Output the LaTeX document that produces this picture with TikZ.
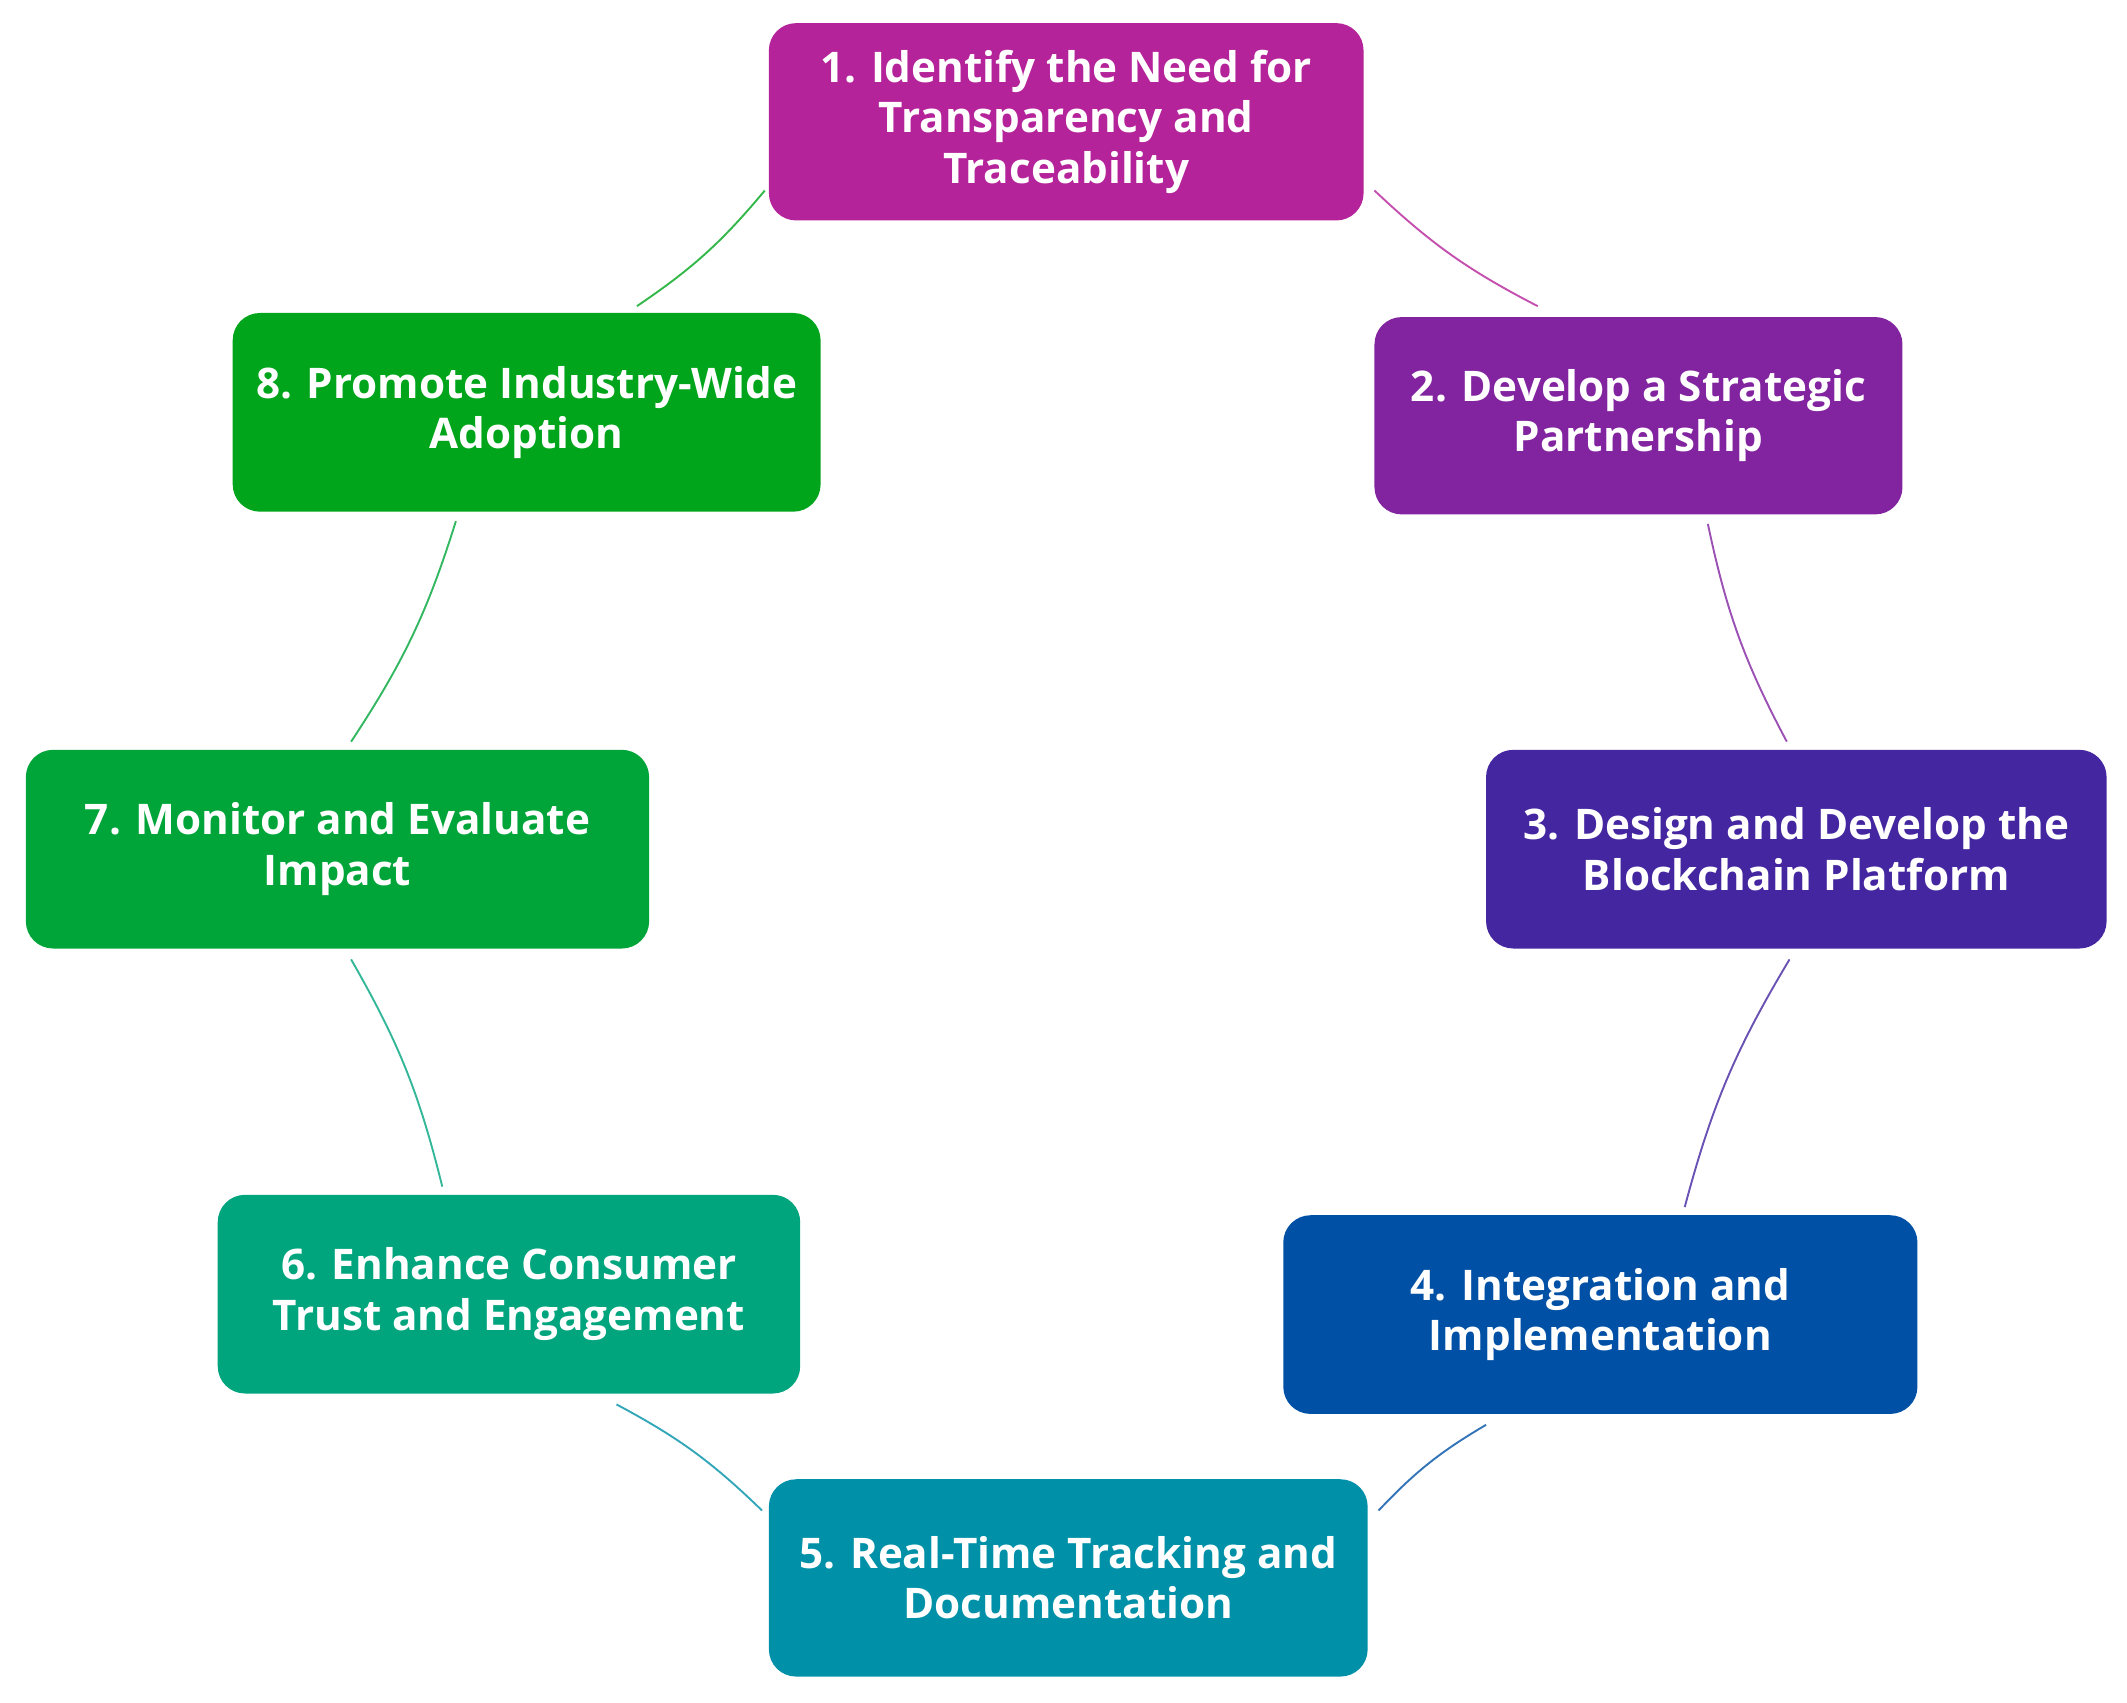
\documentclass[tikz,border=0pt]{standalone}
\usepackage{fontspec}
\setmainfont{Open Sans}
\begin{document}
\begin{tikzpicture}[x=0.5pt,y=-0.5pt,
 box/.style={rounded corners=10pt,text=white,align=center,font=\fontsize{15.5}{18.5}\selectfont\bfseries,inner sep=0pt},
 con/.style={line width=0.7pt}]
\useasboundingbox (0,0) rectangle (1563,1251);
\definecolor{c1}{HTML}{B5239A}\definecolor{c2}{HTML}{8224A0}\definecolor{c3}{HTML}{4427A0}
\definecolor{c4}{HTML}{0050A5}\definecolor{c5}{HTML}{0091A8}\definecolor{c6}{HTML}{00A57E}
\definecolor{c7}{HTML}{00A53A}\definecolor{c8}{HTML}{00A51B}
\newcommand{\bx}[7]{\fill[#6,rounded corners=10pt] (#1,#2) rectangle (#3,#4); \node[box] (#7) at ({(#1+#3)/2},{(#2+#4)/2}) {#5};}
\bx{565}{17}{1002}{162}{1. Identify the Need for\\Transparency and\\Traceability}{c1}{n1}
\bx{1010}{233}{1398}{378}{2. Develop a Strategic\\Partnership}{c2}{n2}
\bx{1092}{551}{1548}{697}{3. Design and Develop the\\Blockchain Platform}{c3}{n3}
\bx{943}{893}{1409}{1039}{4. Integration and\\Implementation}{c4}{n4}
\bx{565}{1087}{1005}{1232}{5. Real-Time Tracking and\\Documentation}{c5}{n5}
\bx{160}{878}{588}{1024}{6. Enhance Consumer\\Trust and Engagement}{c6}{n6}
\bx{19}{551}{477}{697}{7. Monitor and Evaluate\\Impact}{c7}{n7}
\bx{171}{230}{603}{376}{8. Promote Industry-Wide\\Adoption}{c8}{n8}
\coordinate (a1) at (1010,140); \coordinate (b1) at (1130,225);
\coordinate (a2) at (1255,385); \coordinate (b2) at (1313,545);
\coordinate (a3) at (1315,705); \coordinate (b3) at (1238,887);
\coordinate (a4) at (1092,1047); \coordinate (b4) at (1013,1110);
\coordinate (a5) at (560,1110); \coordinate (b5) at (453,1032);
\coordinate (a6) at (325,872); \coordinate (b6) at (258,705);
\coordinate (a7) at (258,545); \coordinate (b7) at (335,383);
\coordinate (a8) at (468,225); \coordinate (b8) at (562,140);
\draw[con,c1!80] (a1) to[bend right=8] (b1);
\draw[con,c2!80] (a2) to[bend right=8] (b2);
\draw[con,c3!80] (a3) to[bend right=8] (b3);
\draw[con,c4!80] (a4) to[bend right=8] (b4);
\draw[con,c5!80] (a5) to[bend right=8] (b5);
\draw[con,c6!80] (a6) to[bend right=8] (b6);
\draw[con,c7!80] (a7) to[bend right=8] (b7);
\draw[con,c8!80] (a8) to[bend right=8] (b8);
\end{tikzpicture}
\end{document}
